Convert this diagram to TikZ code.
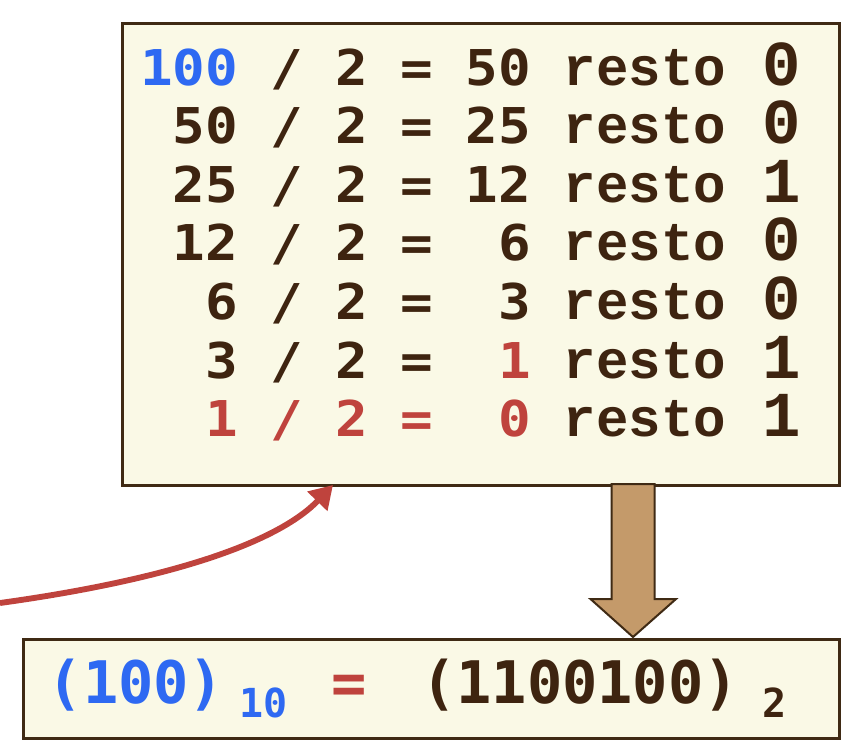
\documentclass[tikz,border=0pt]{standalone}
\usepackage{fontspec}
\newfontfamily\digfont{DejaVu Sans Mono}[FakeStretch=1.1]
\newfontfamily\eqfont{DejaVu Sans Mono}
\newfontfamily\courfont{Liberation Mono}
\usetikzlibrary{arrows.meta,calc}
\definecolor{ink}{HTML}{3E2410}
\definecolor{blu}{HTML}{2E69F2}
\definecolor{rd}{HTML}{BF433D}
\definecolor{cream}{HTML}{FAF9E6}
\definecolor{tanfill}{HTML}{C49A6A}
\definecolor{edge}{HTML}{3F2A14}
\tikzset{
 panel/.style={draw=edge, fill=cream, line width=2pt, inner sep=0pt, anchor=north west},
 dg/.style={inner sep=0pt, font=\digfont\bfseries\fontsize{37}{40}\selectfont},
 rs/.style={inner sep=0pt, anchor=base west, text=ink, font=\courfont\bfseries\fontsize{40.6}{44}\selectfont},
 rm/.style={inner sep=0pt, anchor=base, text=ink, text height=30pt, text depth=0pt, font=\courfont\bfseries\fontsize{48}{52}\selectfont},
 big/.style={inner sep=0pt, anchor=base, font=\eqfont\bfseries\fontsize{44}{48}\selectfont},
 sub/.style={inner sep=0pt, anchor=base, font=\eqfont\bfseries\fontsize{30}{33}\selectfont},
 curve/.style={draw=rd, line width=4.4pt, -{Triangle[length=17pt,width=20pt]}},
 bigarrow/.style={draw=edge, fill=tanfill, line width=1.5pt, line join=miter}
}
\begin{document}
\begin{tikzpicture}[x=0.75pt,y=-0.75pt]
\useasboundingbox (0,0) rectangle (859,747);
\node[panel, minimum width=537.75pt, minimum height=346.5pt] (top) at (121,22) {};
\node[panel, minimum width=612pt, minimum height=74.25pt] (bot) at (22,638) {};
% brown arrow
\coordinate (as) at (633,484);
\coordinate (ae) at (633,637);
\draw[bigarrow] ($(as)+(-21.5,0)$) -- ($(ae)+(-21.5,-38)$) -- ($(ae)+(-42.5,-38)$) -- (ae)
  -- ($(ae)+(43,-38)$) -- ($(ae)+(21.5,-38)$) -- ($(as)+(21.5,0)$) -- cycle;
% red curve
\coordinate (c0) at (0,603);
\coordinate (c1) at (333,485);
\draw[curve] (c0) .. controls (180,578) and (280,540) .. (c1);
% rows
\foreach \i/\y/\a/\ca/\q/\cq/\co/\r in {1/85/100/blu/50/ink/ink/0, 2/143.6/50/ink/25/ink/ink/0, 3/202.2/25/ink/12/ink/ink/1, 4/260.8/12/ink/6/ink/ink/0, 5/319.4/6/ink/3/ink/ink/0, 6/378/3/ink/1/rd/ink/1, 7/436.6/1/rd/0/rd/rd/1}
{
 \node[dg, anchor=base east, text=\ca] (a\i) at (238.5,\y) {\a};
 \node[dg, anchor=base, text=\co] (s\i) at (287,\y) {/};
 \node[dg, anchor=base, text=\co] (d\i) at (352,\y) {2};
 \node[dg, anchor=base, text=\co] (e\i) at (417,\y) {=};
 \node[dg, anchor=base east, text=\cq] (q\i) at (531,\y) {\q};
 \node[rs] (r\i) at (563.5,\y) {resto};
 \node[rm] (m\i) at (782,\y) {\r};
}
% bottom equation
\node[big, text=blu] (b1) at (136,703) {(100)};
\node[sub, text=blu] (b2) at (263.5,717) {10};
\node[big, text=rd] (b3) at (349,703) {=};
\node[big, text=ink] (b4) at (580,703) {(1100100)};
\node[sub, text=ink] (b5) at (775,717) {2};
\end{tikzpicture}
\end{document}
